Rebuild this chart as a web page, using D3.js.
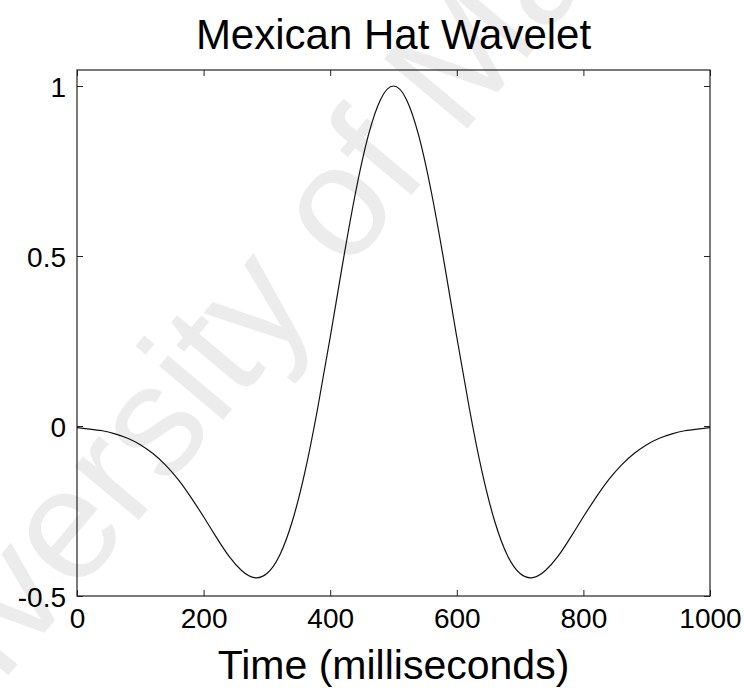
<!DOCTYPE html>
<html>
<head>
<meta charset="utf-8">
<script src="https://cdn.jsdelivr.net/npm/d3@7"></script>
<style>
  html, body { margin: 0; padding: 0; background: #fff; }
  svg { display: block; }
  text { font-family: "Liberation Sans", Arial, Helvetica, sans-serif; }
</style>
</head>
<body>
<script>
// Sample times (ms) and wavelet amplitude at each sample
const timeMs = [
  0, 20, 40, 60, 80, 100, 120, 140, 160, 180,
  200, 220, 240, 260, 280, 300, 320, 340, 360, 380,
  400, 420, 440, 460, 480, 500, 520, 540, 560, 580,
  600, 620, 640, 660, 680, 700, 720, 740, 760, 780,
  800, 820, 840, 860, 880, 900, 920, 940, 960, 980, 1000
];
const amplitude = [
  -0.005, -0.009, -0.014, -0.023, -0.036, -0.055, -0.081, -0.115, -0.158, -0.210,
  -0.267, -0.327, -0.383, -0.425, -0.446, -0.434, -0.381, -0.281, -0.136, 0.050,
  0.261, 0.481, 0.686, 0.853, 0.962, 1.000, 0.962, 0.853, 0.686, 0.481,
  0.261, 0.050, -0.136, -0.281, -0.381, -0.434, -0.446, -0.425, -0.383, -0.327,
  -0.267, -0.210, -0.158, -0.115, -0.081, -0.055, -0.036, -0.023, -0.014, -0.009, -0.005
];
const xTicks = [0, 200, 400, 600, 800, 1000];
const yTicks = [-0.5, 0, 0.5, 1];
const yTickLabels = ["-0.5", "0", "0.5", "1"];

const titleText = "Mexican Hat Wavelet";
const xLabelText = "Time (milliseconds)";
const watermarkText = "University of Manchester";

const W = 744, H = 688;
const plot = { left: 77, right: 710, top: 70, bottom: 596 };

const svg = d3.select("body").append("svg")
  .attr("width", W).attr("height", H);

svg.append("rect").attr("width", W).attr("height", H).attr("fill", "#fff");

// faint diagonal watermark behind the chart (runs off the page edges)
svg.append("text")
  .attr("transform", "translate(-128,838) rotate(-50)")
  .attr("font-size", 158)
  .attr("fill", "#ececec")
  .text(watermarkText);

const x = d3.scaleLinear().domain([0, 1000]).range([plot.left, plot.right]);
const y = d3.scaleLinear().domain([-0.5, 1.047]).range([plot.bottom, plot.top]);

const tickLen = 6;

// bottom axis with labels, ticks pointing inward
const gx = svg.append("g")
  .attr("transform", `translate(0,${plot.bottom})`)
  .call(d3.axisBottom(x).tickValues(xTicks).tickFormat(d3.format("d"))
    .tickSizeInner(-tickLen).tickSizeOuter(0).tickPadding(12));
// left axis with labels
const gy = svg.append("g")
  .attr("transform", `translate(${plot.left},0)`)
  .call(d3.axisLeft(y).tickValues(yTicks).tickFormat((d, i) => yTickLabels[i])
    .tickSizeInner(-tickLen).tickSizeOuter(0).tickPadding(11));
// top and right: ticks only
const gt = svg.append("g")
  .attr("transform", `translate(0,${plot.top})`)
  .call(d3.axisTop(x).tickValues(xTicks).tickFormat("")
    .tickSizeInner(-tickLen).tickSizeOuter(0));
const gr = svg.append("g")
  .attr("transform", `translate(${plot.right},0)`)
  .call(d3.axisRight(y).tickValues(yTicks).tickFormat("")
    .tickSizeInner(-tickLen).tickSizeOuter(0));

[gx, gy, gt, gr].forEach(g => {
  g.select(".domain").remove();
  g.selectAll(".tick line").attr("stroke", "#222").attr("stroke-width", 1);
  g.selectAll(".tick text")
    .attr("fill", "#000")
    .attr("font-size", 28)
    .attr("font-family", "'Liberation Sans', Arial, sans-serif");
});
gy.selectAll(".tick text").attr("dy", "0.36em");

// axes box
svg.append("rect")
  .attr("x", plot.left).attr("y", plot.top)
  .attr("width", plot.right - plot.left).attr("height", plot.bottom - plot.top)
  .attr("fill", "none").attr("stroke", "#222").attr("stroke-width", 1.2);

// wavelet curve
const line = d3.line()
  .x((d, i) => x(timeMs[i]))
  .y(d => y(d))
  .curve(d3.curveNatural);

svg.append("path")
  .datum(amplitude)
  .attr("d", line)
  .attr("fill", "none")
  .attr("stroke", "#111")
  .attr("stroke-width", 1.2);

// title and axis label
svg.append("text")
  .attr("x", (plot.left + plot.right) / 2).attr("y", 49)
  .attr("text-anchor", "middle").attr("font-size", 42).attr("fill", "#000")
  .text(titleText);

svg.append("text")
  .attr("x", (plot.left + plot.right) / 2).attr("y", 679)
  .attr("text-anchor", "middle").attr("font-size", 41).attr("fill", "#000")
  .text(xLabelText);
</script>
</body>
</html>
